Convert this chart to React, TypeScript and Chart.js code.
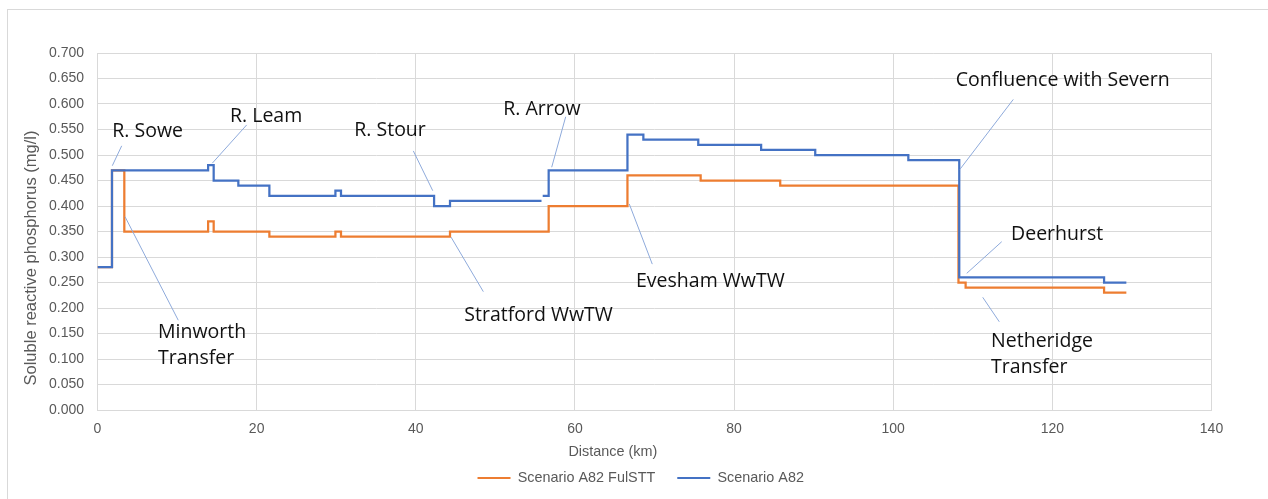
import React, { useEffect, useRef } from "react";
import { Chart, registerables } from "chart.js";

Chart.register(...registerables);

// Stepped river profiles: each level holds from breaks[i] to breaks[i + 1] (km).
const a82Breaks = [0, 1.82, 13.9, 14.6, 17.7, 21.6, 29.9, 30.6, 42.3, 44.3, 55.8, 55.95, 56.7, 66.6, 68.6, 75.5, 83.4, 90.2, 101.9, 108.3, 126.5, 129.3];
const a82Levels = [0.28, 0.47, 0.48, 0.45, 0.44, 0.42, 0.43, 0.42, 0.4, 0.41, null, 0.42, 0.47, 0.54, 0.53, 0.52, 0.51, 0.5, 0.49, 0.26, 0.25];

const fulsttBreaks = [0, 1.82, 3.37, 13.9, 14.6, 21.6, 29.9, 30.6, 44.3, 56.7, 66.6, 75.8, 85.8, 108.2, 109.1, 126.5, 129.3];
const fulsttLevels = [0.28, 0.47, 0.35, 0.37, 0.35, 0.34, 0.35, 0.34, 0.35, 0.4, 0.46, 0.45, 0.44, 0.25, 0.24, 0.23];

const seriesNames = ["Scenario A82", "Scenario A82 FulSTT"];

// Callout labels along the river, with leader lines (data coordinates: km, mg/l).
const calloutLabels = [
  ["R. Sowe"],
  ["R. Leam"],
  ["Minworth", "Transfer"],
  ["R. Stour"],
  ["R. Arrow"],
  ["Stratford WwTW"],
  ["Evesham WwTW"],
  ["Confluence with Severn"],
  ["Deerhurst"],
  ["Netheridge", "Transfer"],
];
const calloutAnchor = [
  [1.86, 0.546],
  [16.65, 0.575],
  [7.6, 0.153],
  [32.27, 0.548],
  [51.0, 0.59],
  [46.1, 0.186],
  [67.68, 0.253],
  [107.86, 0.646],
  [114.81, 0.345],
  [112.3, 0.135],
];
const leaderStart = [
  [3.04, 0.518],
  [18.75, 0.559],
  [10.15, 0.176],
  [39.69, 0.508],
  [58.84, 0.575],
  [44.43, 0.339],
  [66.83, 0.404],
  [115.09, 0.609],
  [113.64, 0.33],
  [111.25, 0.221],
];
const leaderEnd = [
  [1.86, 0.479],
  [14.43, 0.484],
  [3.46, 0.379],
  [42.13, 0.43],
  [57.08, 0.476],
  [48.49, 0.232],
  [69.72, 0.286],
  [108.39, 0.472],
  [109.24, 0.268],
  [113.33, 0.173],
];

const xTitle = "Distance (km)";
const yTitle = "Soluble reactive phosphorus (mg/l)";

const AXIS_FONT = "'Liberation Sans', Arial, sans-serif";
const LABEL_FONT = "'Open Sans', 'Noto Sans', sans-serif";
const AXIS_GREY = "#595959";
const GRID = "#d9d9d9";

function stepPoints(breaks: number[], levels: (number | null)[]) {
  const pts: { x: number; y: number | null }[] = [];
  levels.forEach((v, i) => {
    pts.push({ x: breaks[i], y: v });
    pts.push({ x: breaks[i + 1], y: v });
  });
  return pts;
}

const decorations = {
  id: "decorations",
  beforeDraw(chart: any) {
    const { ctx } = chart;
    ctx.save();
    ctx.strokeStyle = GRID;
    ctx.lineWidth = 1;
    ctx.strokeRect(7.5, 9.5, 1400, 700);
    ctx.restore();
  },
  afterDatasetsDraw(chart: any) {
    const { ctx, scales } = chart;
    const px = (v: number) => scales.x.getPixelForValue(v);
    const py = (v: number) => scales.y.getPixelForValue(v);
    ctx.save();
    ctx.strokeStyle = "#8eaadb";
    ctx.lineWidth = 1;
    leaderStart.forEach((s, i) => {
      const e = leaderEnd[i];
      ctx.beginPath();
      ctx.moveTo(px(s[0]), py(s[1]));
      ctx.lineTo(px(e[0]), py(e[1]));
      ctx.stroke();
    });
    ctx.fillStyle = "#111111";
    ctx.font = `19.5px ${LABEL_FONT}`;
    ctx.textAlign = "left";
    ctx.textBaseline = "middle";
    calloutLabels.forEach((lines, i) => {
      const [ax, ay] = calloutAnchor[i];
      lines.forEach((line, j) => {
        ctx.fillText(line, px(ax), py(ay) + j * 26.5);
      });
    });
    ctx.restore();
  },
  afterDraw(chart: any) {
    const { ctx } = chart;
    ctx.save();
    ctx.fillStyle = AXIS_GREY;
    ctx.textAlign = "center";
    ctx.textBaseline = "middle";
    ctx.font = `14.4px ${AXIS_FONT}`;
    ctx.fillText(xTitle, 612.8, 452);
    ctx.translate(31.7, 258);
    ctx.rotate(-Math.PI / 2);
    ctx.font = `16.5px ${AXIS_FONT}`;
    ctx.fillText(yTitle, 0, 0);
    ctx.restore();
  },
};

export default function App() {
  const canvasRef = useRef<HTMLCanvasElement | null>(null);

  useEffect(() => {
    const canvas = canvasRef.current;
    if (!canvas) return;
    const chart = new Chart(canvas, {
      type: "line",
      data: {
        datasets: [
          {
            label: seriesNames[0],
            data: stepPoints(a82Breaks, a82Levels) as any,
            borderColor: "#4472c4",
            backgroundColor: "#4472c4",
            borderWidth: 2.25,
            pointRadius: 0,
            tension: 0,
            spanGaps: false,
          },
          {
            label: seriesNames[1],
            data: stepPoints(fulsttBreaks, fulsttLevels) as any,
            borderColor: "#ed7d31",
            backgroundColor: "#ed7d31",
            borderWidth: 2.25,
            pointRadius: 0,
            tension: 0,
            spanGaps: false,
          },
        ],
      },
      options: {
        responsive: false,
        animation: false,
        events: [],
        layout: { padding: { left: 13.4, right: 0, top: 53, bottom: 3.8 } },
        plugins: {
          tooltip: { enabled: false },
          legend: {
            position: "bottom",
            reverse: true,
            labels: {
              boxWidth: 33,
              boxHeight: 2,
              padding: 22,
              color: AXIS_GREY,
              font: { family: AXIS_FONT, size: 14.4 },
              generateLabels(ch: any) {
                return ch.data.datasets.map((ds: any, i: number) => ({
                  text: ds.label,
                  fillStyle: ds.borderColor,
                  strokeStyle: ds.borderColor,
                  lineWidth: 0,
                  fontColor: AXIS_GREY,
                  hidden: false,
                  datasetIndex: i,
                }));
              },
            },
          },
        },
        scales: {
          x: {
            type: "linear",
            min: 0,
            max: 140,
            ticks: {
              stepSize: 20,
              padding: 11,
              color: AXIS_GREY,
              font: { family: AXIS_FONT, size: 14 },
            },
            grid: { color: GRID, lineWidth: 1, drawTicks: false },
            border: { color: GRID, width: 1 },
            afterFit(s: any) {
              s.height = 38.8;
            },
          },
          y: {
            type: "linear",
            min: 0,
            max: 0.7,
            ticks: {
              stepSize: 0.05,
              padding: 13.5,
              color: AXIS_GREY,
              font: { family: AXIS_FONT, size: 14 },
              callback: (v: any) => Number(v).toFixed(3),
            },
            grid: { color: GRID, lineWidth: 1, drawTicks: false },
            border: { color: GRID, width: 1 },
            afterFit(s: any) {
              s.width = 84.1;
            },
          },
          yRight: {
            type: "linear",
            position: "right",
            display: true,
            ticks: { display: false },
            grid: { display: false, drawTicks: false },
            border: { display: false },
            afterFit(s: any) {
              s.width = 56.5;
            },
          },
        },
      } as any,
      plugins: [decorations],
    });
    return () => chart.destroy();
  }, []);

  return (
    <div style={{ position: "fixed", left: 0, top: 0, width: 1268, height: 499, background: "#fff" }}>
      <canvas ref={canvasRef} width={1268} height={499} style={{ display: "block" }} />
    </div>
  );
}
